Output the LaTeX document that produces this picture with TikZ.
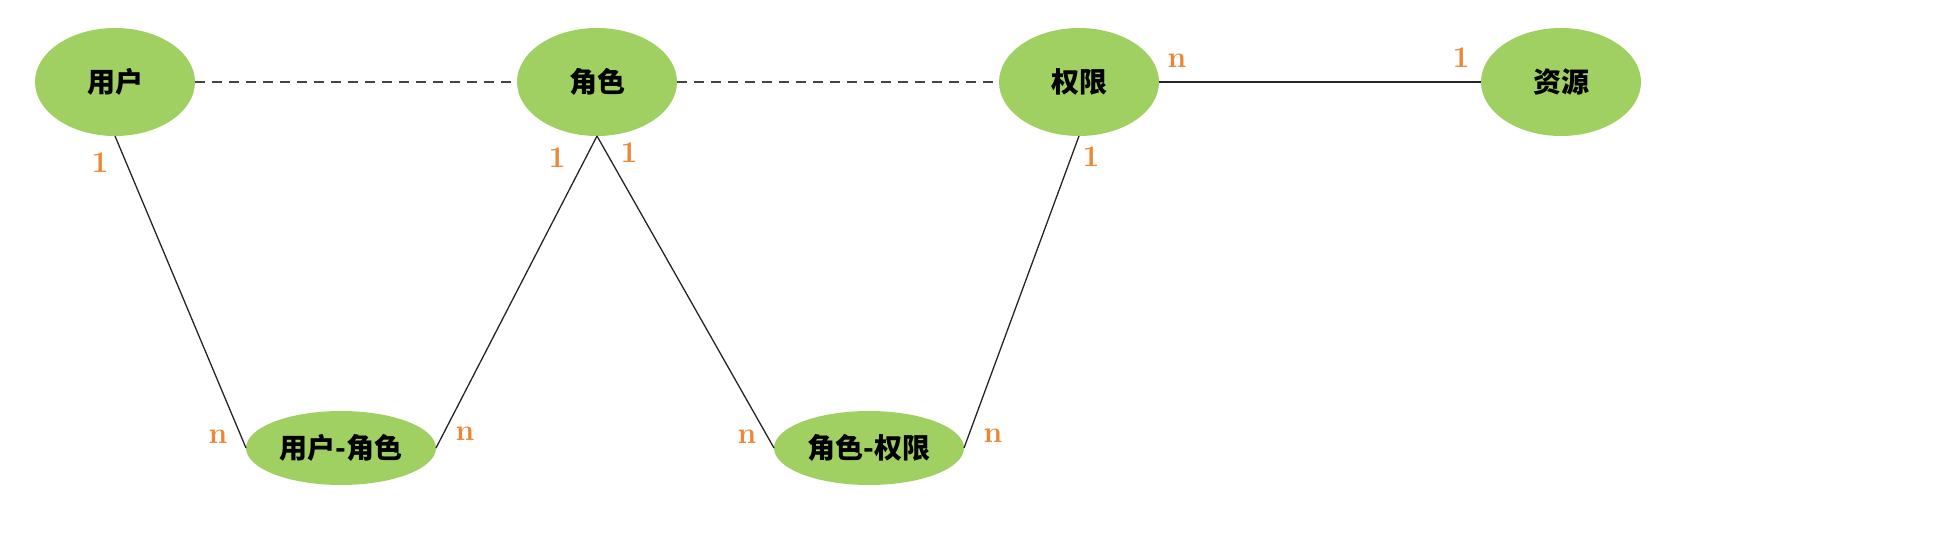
\documentclass[tikz,border=0pt]{standalone}
\usepackage{fontspec}
\newfontfamily\cjk{Noto Sans CJK SC}
\usetikzlibrary{positioning, shapes.geometric}
\definecolor{entgreen}{HTML}{A0CF62}
\definecolor{cardorange}{HTML}{EE8535}
\definecolor{linkgray}{HTML}{444444}

\begin{document}
\begin{tikzpicture}[x=0.5pt, y=-0.5pt,
  ent/.style={ellipse, fill=entgreen, draw=none, inner sep=0pt, outer sep=0pt,
              minimum width=80pt, minimum height=54pt,
              font=\cjk\fontsize{14}{16}\selectfont\bfseries},
  relent/.style={ent, minimum width=95pt, minimum height=37pt},
  card/.style={text=cardorange, inner sep=0pt, font=\fontsize{15}{17}\selectfont\bfseries},
  link/.style={draw=black!85, line width=0.65pt},
  loose/.style={draw=linkgray, line width=0.9pt, dash pattern=on 5pt off 3.5pt}
]
\useasboundingbox (0,0) rectangle (1938,540);
\node[ent] (user) at (115,82)  {用户};
\node[ent] (role) at (597,82)  {角色};
\node[ent] (perm) at (1079,82) {权限};
\node[ent] (res)  at (1561,82) {资源};
\node[relent] (userrole) at (341,448) {用户-角色};
\node[relent] (roleperm) at (869,448) {角色-权限};
\draw[loose] (user) -- (role);
\draw[loose] (role) -- (perm);
\draw[link] (perm) -- (res);
\draw[link] (user.south) -- (userrole.west);
\draw[link] (userrole.east) -- (role.south);
\draw[link] (role.south) -- (roleperm.west);
\draw[link] (roleperm.east) -- (perm.south);
% cardinalities
\node[card] (c1) at (100,163)  {1};
\node[card] (c2) at (557,158)  {1};
\node[card] (c3) at (629,153)  {1};
\node[card] (c4) at (1091,157) {1};
\node[card] (c5) at (1177,61)  {n};
\node[card] (c6) at (1461,58)  {1};
\node[card] (c7) at (218,437)  {n};
\node[card] (c8) at (465,434)  {n};
\node[card] (c9) at (747,437)  {n};
\node[card] (c10) at (993,436) {n};
\end{tikzpicture}
\end{document}
